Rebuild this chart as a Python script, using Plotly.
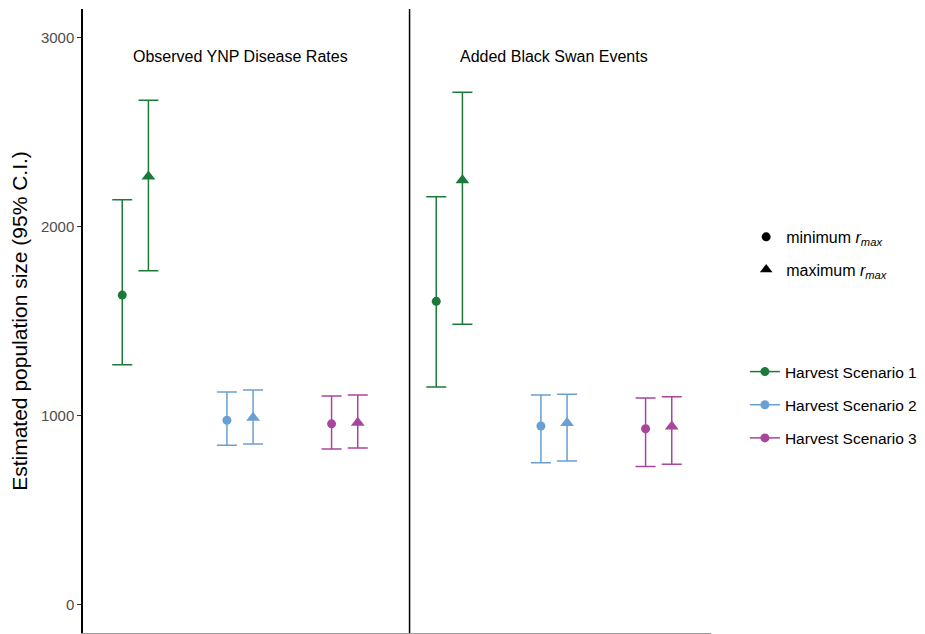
import plotly.graph_objects as go

scenarios = ["Harvest Scenario 1", "Harvest Scenario 2", "Harvest Scenario 3"]
colors = ["#1b7a3a", "#6a9fd4", "#a8459c"]
panels = ["Observed YNP Disease Rates", "Added Black Swan Events"]

# Observed YNP disease rates
obs_min_est = [1637, 975, 956]
obs_min_lo = [1268, 843, 823]
obs_min_hi = [2141, 1124, 1104]
obs_max_est = [2264, 988, 962]
obs_max_lo = [1766, 850, 829]
obs_max_hi = [2667, 1135, 1108]

# Added black swan events
bs_min_est = [1604, 945, 930]
bs_min_lo = [1151, 750, 731]
bs_min_hi = [2157, 1108, 1093]
bs_max_est = [2245, 960, 942]
bs_max_lo = [1483, 759, 743]
bs_max_hi = [2710, 1113, 1099]

x_obs = [1, 2, 3]
x_bs = [4, 5, 6]
dodge = 0.125
panel_divider = 3.62
label_y = 2900

fig = go.Figure()

def add_points(xs, est, lo, hi, symbol, offset):
    for i, name in enumerate(scenarios):
        fig.add_trace(go.Scatter(
            x=[xs[i] + offset], y=[est[i]], mode="markers",
            marker=dict(symbol=symbol, size=9 if symbol == "circle" else 12, color=colors[i]),
            error_y=dict(type="data", symmetric=False,
                         array=[hi[i] - est[i]], arrayminus=[est[i] - lo[i]],
                         color=colors[i], thickness=1.5, width=10),
            showlegend=False, hoverinfo="y"))

add_points(x_obs, obs_min_est, obs_min_lo, obs_min_hi, "circle", -dodge)
add_points(x_obs, obs_max_est, obs_max_lo, obs_max_hi, "triangle-up", dodge)
add_points(x_bs, bs_min_est, bs_min_lo, bs_min_hi, "circle", -dodge)
add_points(x_bs, bs_max_est, bs_max_lo, bs_max_hi, "triangle-up", dodge)

# Shape legend
shape_names = ["minimum <i>r</i><sub><i>max</i></sub>", "maximum <i>r</i><sub><i>max</i></sub>"]
for nm, sym in zip(shape_names, ["circle", "triangle-up"]):
    fig.add_trace(go.Scatter(x=[None], y=[None], mode="markers", name=nm,
                             marker=dict(symbol=sym, size=9 if sym == "circle" else 11, color="black"),
                             legend="legend", legendgroup=nm))

# Colour legend
for nm, c in zip(scenarios, colors):
    fig.add_trace(go.Scatter(x=[None], y=[None], mode="lines+markers", name=nm,
                             line=dict(color=c, width=1.5),
                             marker=dict(symbol="circle", size=9, color=c),
                             legend="legend2", legendgroup=nm))

for xc, txt in zip([2, 5], panels):
    fig.add_annotation(x=xc, y=label_y, text=txt, showarrow=False,
                       font=dict(size=16, color="black"))

fig.add_shape(type="line", x0=panel_divider, x1=panel_divider, y0=0, y1=1,
              xref="x", yref="paper", line=dict(color="black", width=1.5))

fig.update_layout(
    width=925, height=634,
    margin=dict(l=75, r=222, t=1, b=9, autoexpand=False),
    plot_bgcolor="white", paper_bgcolor="white",
    font=dict(family="Liberation Sans, Arial, sans-serif", color="black"),
    xaxis=dict(range=[0.5, 6.5], showticklabels=False, ticks="", showgrid=False,
               zeroline=False, showline=True, linecolor="#999999", linewidth=1,
               automargin=False),
    yaxis=dict(range=[-150, 3150], tickvals=[0, 1000, 2000, 3000],
               showgrid=False, zeroline=False, showline=True, linecolor="black",
               linewidth=1.5, ticks="outside", ticklen=4, tickcolor="#333333",
               tickfont=dict(size=15, color="#4d4d4d"), automargin=False,
               title=dict(text="Estimated population size (95% C.I.)",
                          font=dict(size=21, color="black"), standoff=10)),
    legend=dict(x=1.056, y=0.662, xanchor="left", yanchor="top",
                font=dict(size=16), tracegroupgap=9, bgcolor="rgba(0,0,0,0)"),
    legend2=dict(x=1.054, y=0.4455, xanchor="left", yanchor="top",
                 font=dict(size=15.5), tracegroupgap=10, bgcolor="rgba(0,0,0,0)"),
)

fig.write_html("out.html")
